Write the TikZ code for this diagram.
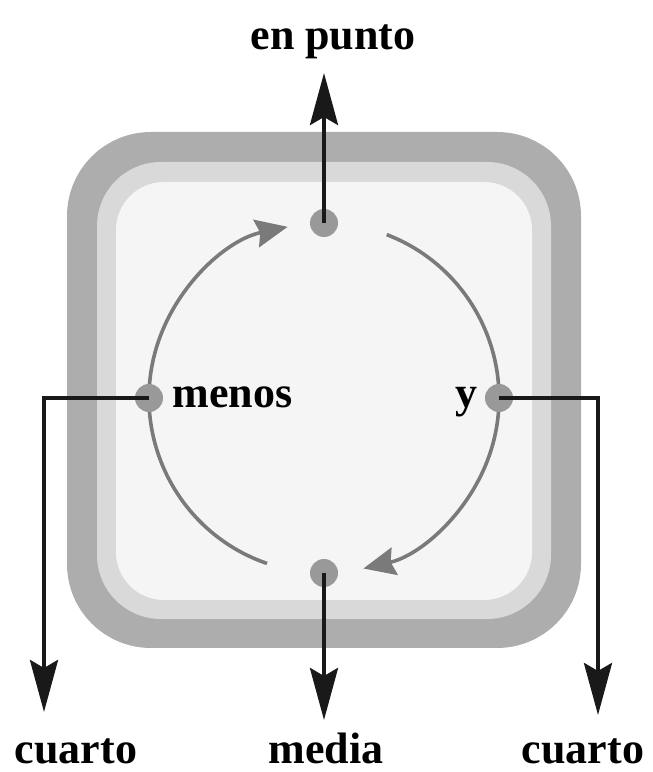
\documentclass[tikz,border=0pt]{standalone}
\usepackage{fontspec}
\setmainfont{Liberation Serif}
\usetikzlibrary{arrows.meta}

\begin{document}
\begin{tikzpicture}[
  x=0.5pt, y=0.5pt,
  hand/.style={draw=black!52, line width=1.8pt, -{Stealth[length=16pt, width=14pt, inset=2pt]}},
  pointer/.style={draw=black!90, line width=2pt, -{Stealth[length=26pt, width=14pt, inset=4pt]}},
  dot/.style={circle, fill=black!40, minimum size=14pt, inner sep=0pt},
  word/.style={font=\bfseries\fontsize{22}{22}\selectfont, inner sep=0pt}
]
\useasboundingbox (0,0) rectangle (653,772);
\fill[black!32, rounded corners=42pt] (67,124) rectangle (581,640);
\fill[black!15, rounded corners=32pt] (97,153) rectangle (551,610);
\fill[black!4, rounded corners=24pt] (116,172) rectangle (532,590);

\coordinate (hub) at (324,374);
\draw[hand] (hub) ++(251:175) arc[start angle=251, end angle=102, radius=175];
\draw[hand] (hub) ++(69:175) arc[start angle=69, end angle=-77, radius=175];

\node[dot] (top) at (324,549) {};
\node[dot] (left) at (149,374) {};
\node[dot] (right) at (499,374) {};
\node[dot] (bottom) at (324,199) {};

\coordinate (tipT) at (324,699);
\coordinate (tipL) at (44,60);
\coordinate (tipR) at (598,57);
\coordinate (tipB) at (324,52);

\draw[pointer] (top.center) -- (tipT);
\draw[pointer] (left.center) -| (tipL);
\draw[pointer] (right.center) -| (tipR);
\draw[pointer] (bottom.center) -- (tipB);

\node[word, anchor=base] (punto) at (333,722) {en punto};
\node[word, anchor=base west] (menos) at (172,364) {menos};
\node[word, anchor=base east] (y) at (478,364) {y};
\node[word, anchor=base] (cuartoL) at (76,9) {cuarto};
\node[word, anchor=base] (media) at (326,9) {media};
\node[word, anchor=base] (cuartoR) at (583,9) {cuarto};
\end{tikzpicture}
\end{document}
